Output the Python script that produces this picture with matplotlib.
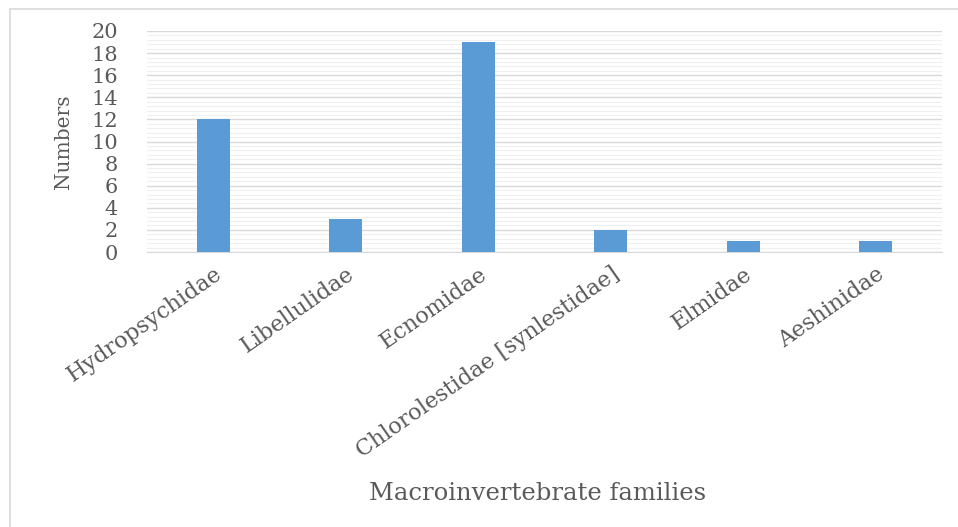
import matplotlib
matplotlib.use("Agg")
import matplotlib.pyplot as plt
import numpy as np
from matplotlib.patches import Rectangle
from matplotlib.ticker import MultipleLocator

# macroinvertebrate counts per family
families = ["Hydropsychidae", "Libellulidae", "Ecnomidae",
            "Chlorolestidae [synlestidae]", "Elmidae", "Aeshinidae"]
counts = [12, 3, 19, 2, 1, 1]

plt.rcParams['font.family'] = ['DejaVu Serif', 'Liberation Serif']
txt = '#595959'

fig = plt.figure(figsize=(9.58, 5.27), dpi=100)
ax = fig.add_axes([147 / 958, 1 - 252 / 527, 795 / 958, 221 / 527])

x = np.arange(len(families))
ax.bar(x, counts, width=0.25, color='#5B9BD5', zorder=3)

ax.set_xlim(-0.5, len(families) - 0.5)
ax.set_ylim(0, 20)
ax.yaxis.set_major_locator(MultipleLocator(2))
ax.yaxis.set_minor_locator(MultipleLocator(0.4))
ax.grid(which='major', axis='y', color='#d9d9d9', linewidth=1.0, zorder=0)
ax.grid(which='minor', axis='y', color='#f0f0f0', linewidth=0.8, zorder=0)

for s in ['top', 'right', 'left']:
    ax.spines[s].set_visible(False)
ax.spines['bottom'].set_color('#d9d9d9')
ax.tick_params(which='both', length=0)
ax.tick_params(axis='y', labelsize=15, labelcolor=txt, pad=21)

ax.set_xticks(x)
ax.set_xticklabels(families, rotation=35, ha='right', rotation_mode='anchor',
                   fontsize=16, color=txt)
ax.tick_params(axis='x', pad=8)

ax.set_ylabel("Numbers", fontsize=14.5, color=txt)
ax.yaxis.set_label_coords(-(147 - 73) / 795, 0.5)
fig.text(538 / 958, 1 - 494 / 527, "Macroinvertebrate families",
         fontsize=17.5, color=txt, ha='center', va='center')

# light frame around the chart area
fig.patches.append(Rectangle((10 / 958, -0.01), 1.0, 1 - 9 / 527 + 0.01,
                             transform=fig.transFigure, fill=False,
                             edgecolor='#d9d9d9', linewidth=1.2))

fig.savefig("out.png", dpi=100)
